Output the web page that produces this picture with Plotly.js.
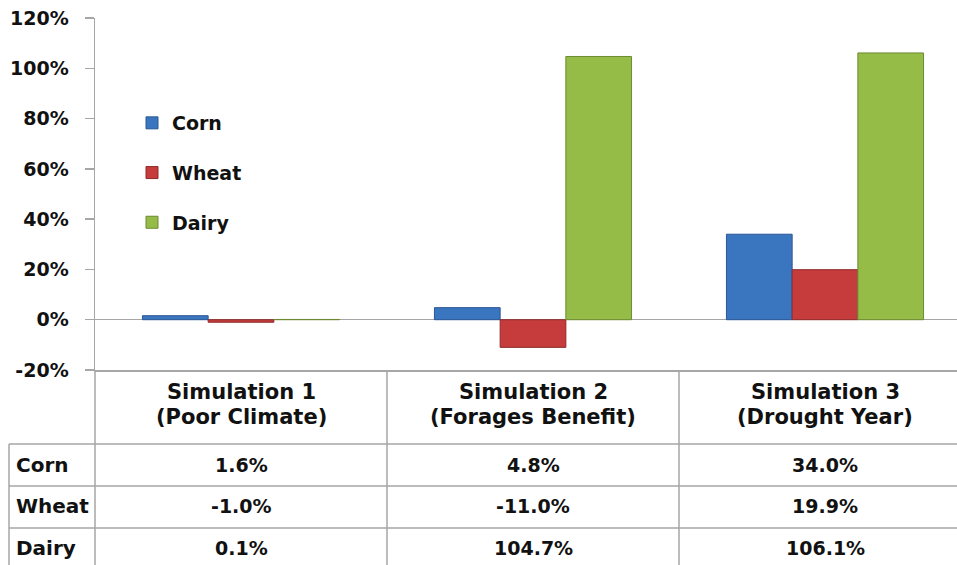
<!DOCTYPE html>
<html>
<head>
<meta charset="utf-8">
<script src="https://cdn.plot.ly/plotly-3.0.1.min.js"></script>
<style>html,body{margin:0;padding:0;background:#fff;overflow:hidden}</style>
</head>
<body>
<div id="chart" style="width:957px;height:565px"></div>
<script>
// ---- data ----
const simulations = ['Simulation 1', 'Simulation 2', 'Simulation 3'];
const scenarios = ['Poor Climate', 'Forages Benefit', 'Drought Year'];
const seriesNames = ['Corn', 'Wheat', 'Dairy'];
const corn = [1.6, 4.8, 34.0];
const wheat = [-1.0, -11.0, 19.9];
const dairy = [0.1, 104.7, 106.1];
const yTicks = [-20, 0, 20, 40, 60, 80, 100, 120];

const seriesValues = [corn, wheat, dairy];
const fills = ['#3A75C0', '#C63B3B', '#95BC47'];
const edges = ['#2A5793', '#8E2A2A', '#6C8A31'];

const FONT = 'DejaVu Sans, Verdana, sans-serif';
const GRID = '#A6A6A6';

const traces = seriesNames.map((name, i) => ({
  type: 'bar',
  name: name,
  x: simulations,
  y: seriesValues[i],
  legendgroup: name,
  marker: {color: fills[i], line: {color: edges[i], width: 1}},
  hoverinfo: 'x+y+name'
}));

// table geometry (paper coordinates)
const py = px => (370 - px) / 352;   // pixel row -> paper y
const pxX = px => (px - 95) / 862;   // pixel col -> paper x
const bottom = py(565);
const rowLines = [444, 486, 528];
const rowCenters = [465, 506, 548];

const shapes = [];
rowLines.forEach(y => shapes.push({type: 'line', xref: 'paper', yref: 'paper',
  x0: pxX(9), x1: 1, y0: py(y), y1: py(y), line: {color: GRID, width: 1.5}}));
shapes.push({type: 'line', xref: 'paper', yref: 'paper', x0: pxX(9), x1: pxX(9),
  y0: py(444), y1: bottom, line: {color: GRID, width: 1.5}});
shapes.push({type: 'line', xref: 'paper', yref: 'paper', x0: 0, x1: 0,
  y0: 0, y1: bottom, line: {color: GRID, width: 1.5}});
[0.5, 1.5].forEach(x => shapes.push({type: 'line', xref: 'x', yref: 'paper',
  x0: x, x1: x, y0: 0, y1: bottom, line: {color: GRID, width: 1.5}}));

const annotations = [];
simulations.forEach((s, i) => {
  annotations.push({xref: 'x', yref: 'paper', x: s, y: py(392), text: s, showarrow: false,
    xanchor: 'center', yanchor: 'middle', font: {family: FONT, size: 21, color: '#111', weight: 'bold'}});
  annotations.push({xref: 'x', yref: 'paper', x: s, y: py(417), text: '(' + scenarios[i] + ')', showarrow: false,
    xanchor: 'center', yanchor: 'middle', font: {family: FONT, size: 21, color: '#111', weight: 'bold'}});
});
seriesNames.forEach((name, r) => {
  annotations.push({xref: 'paper', yref: 'paper', x: pxX(14), y: py(rowCenters[r]), text: name,
    showarrow: false, xanchor: 'left', yanchor: 'middle',
    font: {family: FONT, size: 20, color: '#111', weight: 'bold'}});
  seriesValues[r].forEach((v, c) => {
    annotations.push({xref: 'x', yref: 'paper', x: simulations[c], y: py(rowCenters[r]),
      text: v.toFixed(1) + '%', showarrow: false, xanchor: 'center', yanchor: 'middle',
      font: {family: FONT, size: 19, color: '#111', weight: 'bold'}});
  });
});

const layout = {
  width: 957, height: 565,
  margin: {l: 95, r: 0, t: 18, b: 195, pad: 0},
  paper_bgcolor: '#fff', plot_bgcolor: '#fff',
  barmode: 'group', bargap: 0.325, bargroupgap: 0,
  showlegend: true,
  legend: {x: pxX(132), y: py(104), xanchor: 'left', yanchor: 'top',
    font: {family: FONT, size: 19, color: '#111', weight: 'bold'},
    tracegroupgap: 22, bgcolor: 'rgba(0,0,0,0)'},
  xaxis: {type: 'category', range: [-0.5, -0.5 + 862 / 292], showticklabels: false,
    showgrid: false, zeroline: false, showline: true, linecolor: GRID, linewidth: 1.5,
    ticks: '', fixedrange: true},
  yaxis: {range: [-20, 120], tickvals: yTicks, ticktext: yTicks.map(v => v + '%'),
    showgrid: false, zeroline: true, zerolinecolor: GRID, zerolinewidth: 1.5,
    showline: true, linecolor: GRID, linewidth: 1.5, ticks: 'outside', ticklen: 9,
    tickcolor: GRID, tickwidth: 1.5, ticklabelstandoff: 12,
    tickfont: {family: FONT, size: 19, color: '#111', weight: 'bold'}, fixedrange: true},
  shapes: shapes,
  annotations: annotations
};

Plotly.newPlot('chart', traces, layout, {displayModeBar: false, staticPlot: true});
</script>
</body>
</html>
